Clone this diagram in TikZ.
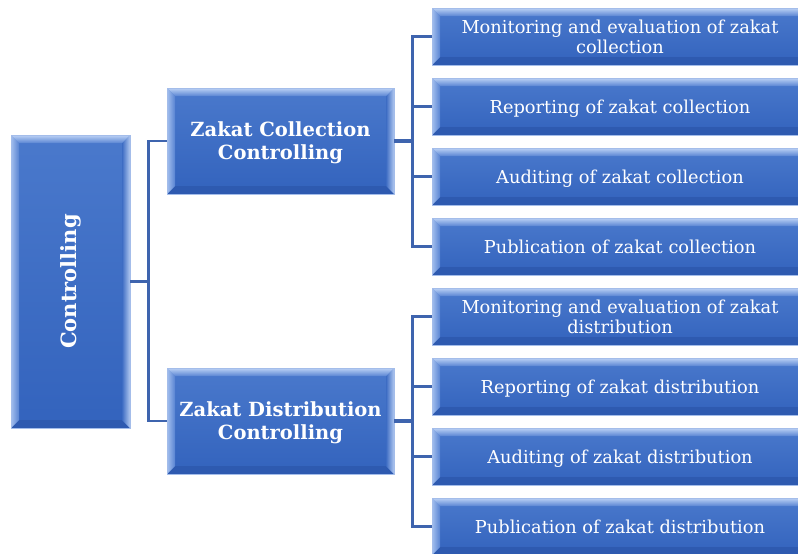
\documentclass[tikz,border=0pt]{standalone}
\usepackage{fontspec}
\setmainfont{DejaVu Serif}
\usetikzlibrary{calc}

\definecolor{linkblue}{HTML}{3E64AE}
\definecolor{facetop}{HTML}{4A79CC}
\definecolor{facebot}{HTML}{3363BD}
\definecolor{rimblue}{HTML}{A4BDEA}
\definecolor{bevtopA}{HTML}{BCD2F5}
\definecolor{bevtopB}{HTML}{5A85D3}
\definecolor{bevleftA}{HTML}{A3BFEE}
\definecolor{bevleftB}{HTML}{5883D2}
\definecolor{bevrightA}{HTML}{3D6CC3}
\definecolor{bevrightB}{HTML}{B0C8F0}
\definecolor{bevbot}{HTML}{2E5AB0}

\newcommand\bvw{8pt}
% box text: a centred block, set a little below the box centre
\newcommand\boxtext[1]{\raisebox{-7.5pt}[0pt][0pt]{\begin{tabular}{@{}c@{}}#1\end{tabular}}}

\tikzset{
  bevelbox/.style={rectangle, draw=rimblue, line width=0.8pt,
    top color=facetop, bottom color=facebot, text=white, align=center,
    inner sep=0pt,
    path picture={
      \coordinate (pa) at (path picture bounding box.north west);
      \coordinate (pb) at (path picture bounding box.north east);
      \coordinate (pc) at (path picture bounding box.south east);
      \coordinate (pd) at (path picture bounding box.south west);
      % bottom facet
      \fill[bevbot] (pd) -- (pc) -- ($(pc)+(-\bvw,\bvw)$) -- ($(pd)+(\bvw,\bvw)$) -- cycle;
      % right facet
      \shade[left color=bevrightA, right color=bevrightB]
        (pb) -- (pc) -- ($(pc)+(-\bvw,\bvw)$) -- ($(pb)+(-\bvw,-\bvw)$) -- cycle;
      % left facet
      \shade[left color=bevleftA, right color=bevleftB]
        (pa) -- (pd) -- ($(pd)+(\bvw,\bvw)$) -- ($(pa)+(\bvw,-\bvw)$) -- cycle;
      % top facet
      \shade[top color=bevtopA, bottom color=bevtopB]
        (pa) -- (pb) -- ($(pb)+(-\bvw,-\bvw)$) -- ($(pa)+(\bvw,-\bvw)$) -- cycle;
    }},
  rootbox/.style={bevelbox, minimum width=119pt, minimum height=293pt,
    font=\fontsize{21}{24}\selectfont\bfseries},
  midbox/.style={bevelbox, minimum width=227pt, minimum height=106pt,
    font=\fontsize{19.5}{23}\selectfont\bfseries},
  leafbox/.style={bevelbox, minimum width=376pt, minimum height=57pt,
    font=\fontsize{17.8}{20}\selectfont},
  link/.style={draw=linkblue, line width=2.4pt},
  trunk/.style={draw=linkblue, line width=3.8pt},
}

\begin{document}
\begin{tikzpicture}[x=1pt,y=-1pt]
  \useasboundingbox (0,0) rectangle (798,554);
  \clip (0,0) rectangle (798,554);

  % root
  \node[rootbox] (ctrl) at (70.5,281.5) {\rotatebox{90}{Controlling}};

  % second level
  \node[midbox] (coll) at (280.5,141) {\boxtext{Zakat Collection\\Controlling}};
  \node[midbox] (dist) at (280.5,421) {\boxtext{Zakat Distribution\\Controlling}};

  % collection leaves
  \node[leafbox] (c1) at (620,36.5)  {\boxtext{Monitoring and evaluation of zakat\\collection}};
  \node[leafbox] (c2) at (620,106.5) {\boxtext{Reporting of zakat collection}};
  \node[leafbox] (c3) at (620,176.5) {\boxtext{Auditing of zakat collection}};
  \node[leafbox] (c4) at (620,246.5) {\boxtext{Publication of zakat collection}};

  % distribution leaves
  \node[leafbox] (d1) at (620,316.5) {\boxtext{Monitoring and evaluation of zakat\\distribution}};
  \node[leafbox] (d2) at (620,386.5) {\boxtext{Reporting of zakat distribution}};
  \node[leafbox] (d3) at (620,456.5) {\boxtext{Auditing of zakat distribution}};
  \node[leafbox] (d4) at (620,526.5) {\boxtext{Publication of zakat distribution}};

  % root bracket
  \coordinate (lb) at ($(coll.west)+(-18pt,0)$);
  \draw[link] (ctrl.east) -- (ctrl.east -| lb);
  \draw[link] (coll.west) -- (lb) -- (lb |- dist.west) -- (dist.west);

  % collection bracket
  \coordinate (cb) at ($(c1.west)+(-19pt,0)$);
  \draw[trunk] (coll.east) -- (coll.east -| cb);
  \draw[link] (c1.west) -- (cb) -- (cb |- c4.west) -- (c4.west);
  \draw[link] (c2.west) -- (c2.west -| cb);
  \draw[link] (c3.west) -- (c3.west -| cb);

  % distribution bracket
  \coordinate (db) at ($(d1.west)+(-19pt,0)$);
  \draw[trunk] (dist.east) -- (dist.east -| db);
  \draw[link] (d1.west) -- (db) -- (db |- d4.west) -- (d4.west);
  \draw[link] (d2.west) -- (d2.west -| db);
  \draw[link] (d3.west) -- (d3.west -| db);
\end{tikzpicture}
\end{document}
